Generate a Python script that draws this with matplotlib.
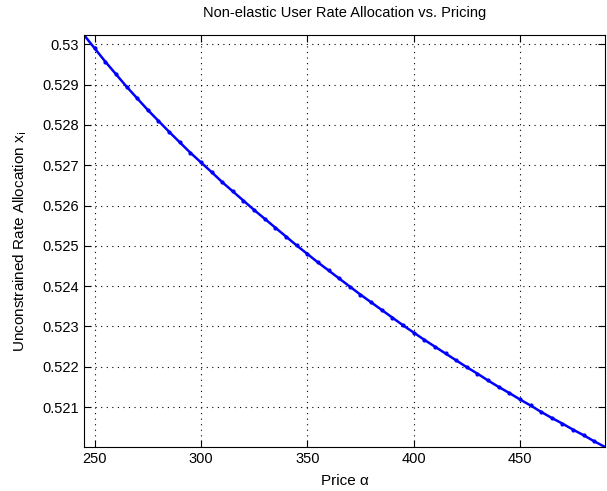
import numpy as np
import matplotlib
matplotlib.use('Agg')
import matplotlib.pyplot as plt
from matplotlib.ticker import FuncFormatter

# price alpha (x) and unconstrained rate allocation x_i (y)
price = [245, 250, 255, 260, 265, 270, 275, 280, 285, 290,
         295, 300, 305, 310, 315, 320, 325, 330, 335, 340,
         345, 350, 355, 360, 365, 370, 375, 380, 385, 390,
         395, 400, 405, 410, 415, 420, 425, 430, 435, 440,
         445, 450, 455, 460, 465, 470, 475, 480, 485, 490]
rate = [0.53023, 0.52990, 0.52957, 0.52926, 0.52895, 0.52866, 0.52837, 0.52810, 0.52783, 0.52757,
        0.52731, 0.52707, 0.52683, 0.52658, 0.52635, 0.52612, 0.52589, 0.52567, 0.52545, 0.52523,
        0.52501, 0.52480, 0.52459, 0.52439, 0.52419, 0.52399, 0.52379, 0.52360, 0.52341, 0.52322,
        0.52303, 0.52285, 0.52267, 0.52250, 0.52233, 0.52216, 0.52199, 0.52183, 0.52166, 0.52150,
        0.52135, 0.52119, 0.52104, 0.52088, 0.52073, 0.52059, 0.52044, 0.52030, 0.52015, 0.52001]

xticks = [250, 300, 350, 400, 450]
yticks = [0.521, 0.522, 0.523, 0.524, 0.525, 0.526, 0.527, 0.528, 0.529, 0.530]

plt.rcParams['font.family'] = ['Liberation Sans', 'DejaVu Sans']
plt.rcParams['font.size'] = 10.5

fig = plt.figure(figsize=(6.07, 4.91), dpi=100)
ax = fig.add_axes([0.1384, 0.0896, 0.8583, 0.8391])

ax.plot(price, rate, '.-', color=(0, 0, 1), linewidth=1.8, markersize=4)

ax.set_xlim(min(price), max(price))
ax.set_ylim(min(rate), max(rate))
ax.set_xticks(xticks)
ax.set_yticks(yticks)
ax.yaxis.set_major_formatter(FuncFormatter(lambda v, p: '%g' % round(v, 3)))

ax.grid(True, color='black', linestyle=(0, (1, 4)), linewidth=0.8)
ax.tick_params(direction='in', top=True, right=True, length=5, width=0.8, labelsize=10.5)
for s in ax.spines.values():
    s.set_linewidth(0.8)

ax.set_title('Non-elastic User Rate Allocation vs. Pricing', fontsize=10.5, pad=13)
ax.set_xlabel('Price α', fontsize=11, labelpad=6)
ax.set_ylabel(r'Unconstrained Rate Allocation x$_{\mathrm{i}}$', fontsize=11, labelpad=10)

fig.savefig('out.png', dpi=100)
